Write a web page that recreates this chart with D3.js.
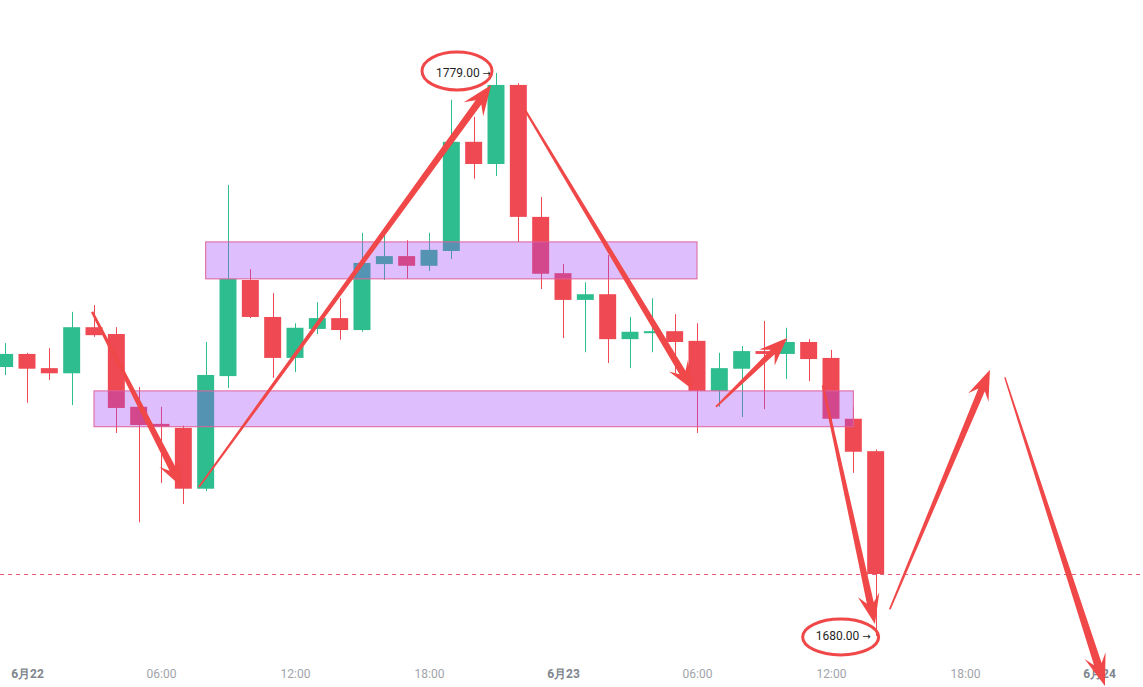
<!DOCTYPE html>
<html>
<head>
<meta charset="utf-8">
<script src="https://cdn.jsdelivr.net/npm/d3@7"></script>
<style>
  html, body { margin: 0; padding: 0; background: #ffffff; }
  svg { display: block; }
</style>
</head>
<body>
<svg id="chart" width="1143" height="687"></svg>
<script>
// ---------------- DATA ----------------
const candleTimes = [
  "2021-06-21T23:00","2021-06-22T00:00","2021-06-22T01:00","2021-06-22T02:00","2021-06-22T03:00",
  "2021-06-22T04:00","2021-06-22T05:00","2021-06-22T06:00","2021-06-22T07:00","2021-06-22T08:00",
  "2021-06-22T09:00","2021-06-22T10:00","2021-06-22T11:00","2021-06-22T12:00","2021-06-22T13:00",
  "2021-06-22T14:00","2021-06-22T15:00","2021-06-22T16:00","2021-06-22T17:00","2021-06-22T18:00",
  "2021-06-22T19:00","2021-06-22T20:00","2021-06-22T21:00","2021-06-22T22:00","2021-06-22T23:00",
  "2021-06-23T00:00","2021-06-23T01:00","2021-06-23T02:00","2021-06-23T03:00","2021-06-23T04:00",
  "2021-06-23T05:00","2021-06-23T06:00","2021-06-23T07:00","2021-06-23T08:00","2021-06-23T09:00",
  "2021-06-23T10:00","2021-06-23T11:00","2021-06-23T12:00","2021-06-23T13:00","2021-06-23T14:00"
];
const openPrices = [
  1727.3,1729.6,1727.1,1726.2,1734.3,1733.1,1720.3,1717.3,1716.6,1705.9,
  1725.7,1742.6,1736.1,1728.9,1734.0,1735.9,1733.8,1745.4,1746.8,1745.1,
  1747.7,1766.9,1763.0,1776.9,1753.7,1743.8,1739.1,1740.1,1732.2,1733.3,
  1733.6,1731.9,1723.1,1727.0,1730.1,1729.6,1731.7,1728.9,1718.2,1712.5
];
const highPrices = [
  1731.5,1729.8,1730.6,1737.0,1738.2,1734.3,1723.8,1720.3,1717.0,1731.7,
  1759.3,1744.5,1740.3,1735.0,1738.7,1739.4,1750.9,1750.5,1749.6,1750.9,
  1774.3,1771.3,1779.0,1777.2,1757.2,1745.4,1742.2,1747.0,1736.1,1739.4,
  1736.6,1735.0,1729.8,1731.0,1735.4,1734.2,1732.2,1730.3,1720.3,1712.8
];
const lowPrices = [
  1725.9,1721.0,1725.0,1720.6,1732.6,1715.7,1700.0,1706.9,1703.2,1705.5,
  1723.6,1735.9,1725.4,1726.4,1733.1,1732.1,1733.5,1742.6,1742.8,1744.2,
  1746.3,1760.4,1760.9,1749.3,1741.0,1732.4,1729.9,1728.0,1727.1,1729.9,
  1726.2,1715.7,1720.3,1718.5,1719.9,1725.2,1724.8,1716.4,1708.7,1680.0
];
const closePrices = [
  1729.6,1727.0,1726.2,1734.3,1732.9,1720.1,1717.1,1716.8,1705.9,1725.9,
  1742.8,1736.1,1728.9,1734.2,1735.9,1733.8,1745.6,1746.8,1745.1,1747.9,
  1766.9,1763.0,1776.9,1753.7,1743.7,1739.1,1740.1,1732.2,1733.5,1733.6,
  1731.7,1723.1,1727.1,1730.1,1729.6,1731.7,1728.7,1718.2,1712.4,1690.9
];

const tickTimes  = ["2021-06-22T00:00","2021-06-22T06:00","2021-06-22T12:00","2021-06-22T18:00",
                    "2021-06-23T00:00","2021-06-23T06:00","2021-06-23T12:00","2021-06-23T18:00",
                    "2021-06-24T00:00"];
const tickLabels = ["6月22","06:00","12:00","18:00","6月23","06:00","12:00","18:00","6月24"];
const tickIsDate = [true,false,false,false,true,false,false,false,true];

// zones: [start, end, top price, bottom price]
const zoneStart  = ["2021-06-22T08:00","2021-06-22T03:00"];
const zoneEnd    = ["2021-06-23T06:00","2021-06-23T13:00"];
const zoneTop    = [1749.3, 1723.1];
const zoneBottom = [1742.8, 1716.8];

const lastPrice = 1690.9;
const highLabel = {time: "2021-06-22T21:00", price: 1779.0, text: "1779.00"};
const lowLabel  = {time: "2021-06-23T14:00", price: 1680.0, text: "1680.00"};

// annotation arrows: from (time, price) to (time, price)
const arrowFromT = ["2021-06-22T02:55","2021-06-22T07:42","2021-06-22T22:18","2021-06-23T06:51","2021-06-23T11:38","2021-06-23T14:38","2021-06-23T19:47"];
const arrowFromP = [1737.0, 1706.2, 1772.5, 1720.3, 1724.1, 1684.7, 1725.5];
const arrowToT   = ["2021-06-22T06:56","2021-06-22T20:47","2021-06-23T05:49","2021-06-23T10:02","2021-06-23T13:58","2021-06-23T19:07","2021-06-24T00:16"];
const arrowToP   = [1706.2, 1776.9, 1723.3, 1732.4, 1682.1, 1726.8, 1671.2];

// ---------------- SETUP ----------------
const parse = d3.timeParse("%Y-%m-%dT%H:%M");
const W = 1143, H = 687;
const svg = d3.select("#chart");

const x = d3.scaleTime()
  .domain([parse("2021-06-22T00:00"), parse("2021-06-24T00:00")])
  .range([27, 1099]);
const y = d3.scaleLinear().domain([1680, 1779]).range([636, 73]);

const hourPx = x(parse("2021-06-22T01:00")) - x(parse("2021-06-22T00:00"));
const bodyW = hourPx * 0.76;

const GREEN = "#2dbd8f", RED = "#ef4953", ARROW = "#f04848";

const candles = candleTimes.map((t, i) => ({
  t: parse(t), o: openPrices[i], h: highPrices[i], l: lowPrices[i], c: closePrices[i]
}));

// candles
const g = svg.append("g");
g.selectAll("line.wick").data(candles).join("line")
  .attr("x1", d => Math.round(x(d.t)) + 0.5).attr("x2", d => Math.round(x(d.t)) + 0.5)
  .attr("y1", d => y(d.h)).attr("y2", d => y(d.l))
  .attr("stroke", d => d.c >= d.o ? GREEN : RED).attr("stroke-width", 1);
g.selectAll("rect.body").data(candles).join("rect")
  .attr("x", d => x(d.t) - bodyW / 2)
  .attr("width", bodyW)
  .attr("y", d => y(Math.max(d.o, d.c)))
  .attr("height", d => Math.max(2, Math.abs(y(d.o) - y(d.c))))
  .attr("fill", d => d.c >= d.o ? GREEN : RED);

// zones
svg.append("g").selectAll("rect").data(zoneStart.map((s, i) => i)).join("rect")
  .attr("x", i => x(parse(zoneStart[i])))
  .attr("width", i => x(parse(zoneEnd[i])) - x(parse(zoneStart[i])))
  .attr("y", i => y(zoneTop[i]))
  .attr("height", i => y(zoneBottom[i]) - y(zoneTop[i]))
  .attr("fill", "rgb(160,68,246)").attr("fill-opacity", 0.35)
  .attr("stroke", "#e0609a").attr("stroke-width", 1);

// last price dashed line
svg.append("line")
  .attr("x1", 0).attr("x2", W)
  .attr("y1", Math.round(y(lastPrice)) + 0.5).attr("y2", Math.round(y(lastPrice)) + 0.5)
  .attr("stroke", "#e2607c").attr("stroke-width", 1).attr("stroke-dasharray", "4,4");

// x axis
const axis = d3.axisBottom(x)
  .tickValues(tickTimes.map(parse))
  .tickFormat((d, i) => tickLabels[i])
  .tickSize(0).tickPadding(0);
const ax = svg.append("g").attr("transform", "translate(0,669)").call(axis);
ax.select(".domain").remove();
ax.selectAll("text")
  .attr("font-family", "Roboto, 'Liberation Sans', sans-serif")
  .attr("font-size", 12)
  .attr("font-weight", (d, i) => tickIsDate[i] ? "bold" : "normal")
  .attr("fill", (d, i) => tickIsDate[i] ? "#80868d" : "#a0a4a9");

// arrows
function arrowPath(sx, sy, tx, ty, w0, w1, L, Wh) {
  const dx = tx - sx, dy = ty - sy, len = Math.hypot(dx, dy);
  const ux = dx / len, uy = dy / len, nx = -uy, ny = ux;
  const nX = tx - ux * L * 0.72, nY = ty - uy * L * 0.72;
  const bX = tx - ux * L, bY = ty - uy * L;
  const pts = [
    [sx + nx * w0 / 2, sy + ny * w0 / 2],
    [nX + nx * w1 / 2, nY + ny * w1 / 2],
    [bX + nx * Wh, bY + ny * Wh],
    [tx, ty],
    [bX - nx * Wh, bY - ny * Wh],
    [nX - nx * w1 / 2, nY - ny * w1 / 2],
    [sx - nx * w0 / 2, sy - ny * w0 / 2]
  ];
  return "M" + pts.map(p => p.join(",")).join("L") + "Z";
}
const arrowW0 = [2.5, 1.8, 2.2, 1.8, 2.2, 1.8, 1.4];
const arrowW1 = [7, 7, 7, 6, 7, 7, 8];
const arrowL  = [28, 30, 28, 28, 30, 30, 32];
const arrowHW = [11, 12, 11, 11, 11, 11, 11];
svg.append("g").selectAll("path").data(arrowFromT.map((s, i) => i)).join("path")
  .attr("d", i => arrowPath(
    x(parse(arrowFromT[i])), y(arrowFromP[i]),
    x(parse(arrowToT[i])), y(arrowToP[i]),
    arrowW0[i], arrowW1[i], arrowL[i], arrowHW[i]))
  .attr("fill", ARROW);

// price labels with ellipses
function priceLabel(lbl, ex, ey, rx, ry) {
  const px = x(parse(lbl.time)) - 5, py = y(lbl.price);
  const t = svg.append("text")
    .attr("x", px).attr("y", py + 4)
    .attr("text-anchor", "end")
    .attr("font-family", "Roboto, 'Liberation Sans', sans-serif")
    .attr("font-size", 12).attr("fill", "#1f1f1f");
  t.append("tspan").text(lbl.text + " ");
  t.append("tspan").attr("font-family", "'DejaVu Sans', sans-serif")
    .attr("font-size", 10).text("→");
  svg.append("ellipse")
    .attr("cx", px + ex).attr("cy", py + ey).attr("rx", rx).attr("ry", ry)
    .attr("fill", "none").attr("stroke", ARROW).attr("stroke-width", 3);
}
priceLabel(highLabel, -34, -2, 35, 19);
priceLabel(lowLabel, -30, 1, 38, 18);
</script>
</body>
</html>
